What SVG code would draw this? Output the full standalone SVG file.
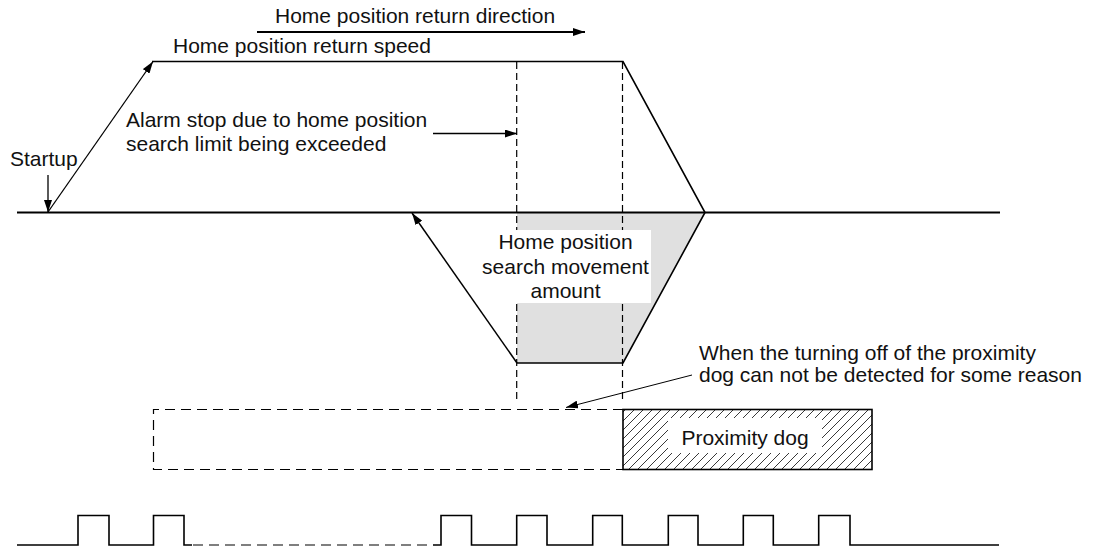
<svg xmlns="http://www.w3.org/2000/svg" width="1101" height="548" viewBox="0 0 1101 548">
  <style>
    .t { font-family: "Liberation Sans", Arial, sans-serif; font-size: 21px; fill: #111; }
    .c { text-anchor: middle; }
    .ln { stroke: #000; fill: none; }
    .dash { stroke: #000; fill: none; stroke-width: 1.2; stroke-dasharray: 7 4; }
    .dashh { stroke: #000; fill: none; stroke-width: 1.2; stroke-dasharray: 10 6; }
  </style>
  <defs>
    <marker id="ah" viewBox="0 0 12 8" refX="12" refY="4" markerWidth="12" markerHeight="8" orient="auto" markerUnits="userSpaceOnUse">
      <path d="M0,0 L12,4 L0,8 z" fill="#000"/>
    </marker>
    <pattern id="hatch" patternUnits="userSpaceOnUse" width="9" height="9">
      <path d="M-1,10 L10,-1" stroke="#222" stroke-width="0.9"/>
    </pattern>
  </defs>
  <rect x="0" y="0" width="1101" height="548" fill="#fff"/>

  <g id="search-area">
    <polygon points="517,212 705,212 623,363 517,363" fill="#e0e0e0"/>
  </g>

  <g id="connectors">
    <!-- direction arrow -->
    <line class="ln" x1="257" y1="32" x2="585" y2="32" stroke-width="1.8" marker-end="url(#ah)"/>
    <!-- axis -->
    <line class="ln" x1="17" y1="212.5" x2="1000" y2="212.5" stroke-width="2"/>
    <!-- startup arrow -->
    <line class="ln" x1="48" y1="175" x2="48" y2="212" stroke-width="1.3" marker-end="url(#ah)"/>
    <!-- acceleration -->
    <line class="ln" x1="48" y1="212" x2="153" y2="61.5" stroke-width="1.3" marker-end="url(#ah)"/>
    <!-- speed plateau & deceleration -->
    <polyline class="ln" points="152,61.5 623,61.5 705,212.5 623,363 517,363" stroke-width="1.6"/>
    <!-- reverse acceleration toward axis -->
    <line class="ln" x1="517" y1="363" x2="412" y2="213" stroke-width="1.5" marker-end="url(#ah)"/>
    <!-- dashed verticals -->
    <line class="dash" x1="516.7" y1="62" x2="516.7" y2="402"/>
    <line class="dash" x1="622.5" y1="62" x2="622.5" y2="402"/>
    <!-- alarm arrow -->
    <line class="ln" x1="433" y1="133.5" x2="517" y2="133.5" stroke-width="1.3" marker-end="url(#ah)"/>
    <!-- proximity annotation arrow -->
    <line class="ln" x1="692" y1="375" x2="566" y2="407.5" stroke-width="1" marker-end="url(#ah)"/>
    <!-- pulses -->
    <path class="ln" stroke-width="1.6" d="M17,545 H78 V515.5 H109 V545 H153.5 V515.5 H184 V545 H192"/>
    <line class="dashh" x1="193" y1="545" x2="433" y2="545"/>
    <path class="ln" stroke-width="1.6" d="M433,545 H441 V515.5 H471.5 V545 H516.7 V515.5 H547 V545 H592.7 V515.5 H622.3 V545 H668.3 V515.5 H698 V545 H743.3 V515.5 H773.3 V545 H818.7 V515.5 H850 V545 H999"/>
  </g>

  <g id="dashed-dog">
    <path class="dashh" d="M623,409.5 H153.5 V469.5 H623"/>
  </g>

  <g id="proximity-dog">
    <rect x="623" y="409.5" width="249" height="60" fill="url(#hatch)" stroke="#000" stroke-width="1.6"/>
    <rect x="668" y="418" width="154" height="35" fill="#fff"/>
    <text class="t c" x="745" y="445">Proximity dog</text>
  </g>

  <g id="label-direction">
    <text class="t" x="275" y="23">Home position return direction</text>
  </g>
  <g id="label-speed">
    <text class="t" x="173" y="53">Home position return speed</text>
  </g>
  <g id="label-startup">
    <text class="t" x="10" y="166">Startup</text>
  </g>
  <g id="label-alarm">
    <text class="t" x="126" y="127">Alarm stop due to home position</text>
    <text class="t" x="126" y="151">search limit being exceeded</text>
  </g>
  <g id="label-search">
    <rect x="480" y="230" width="171" height="73" fill="#fff"/>
    <text class="t c" x="565.5" y="249">Home position</text>
    <text class="t c" x="565.5" y="273.5">search movement</text>
    <text class="t c" x="565.5" y="297.5">amount</text>
  </g>
  <g id="label-proximity-note">
    <text class="t" x="699" y="360">When the turning off of the proximity</text>
    <text class="t" x="699" y="382">dog can not be detected for some reason</text>
  </g>
</svg>
